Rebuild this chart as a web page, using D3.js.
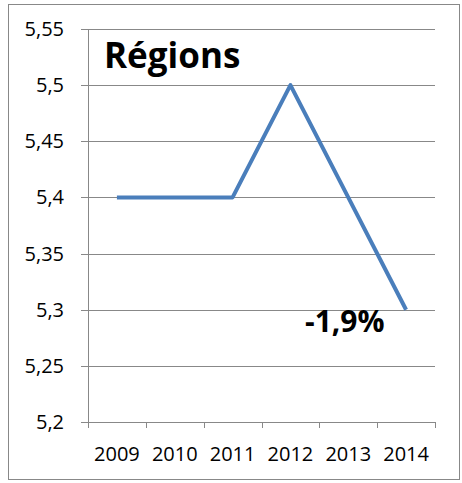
<!DOCTYPE html>
<html>
<head>
<meta charset="utf-8">
<script src="https://cdn.jsdelivr.net/npm/d3@7"></script>
<style>
body { margin: 0; background: #fff; }
text { font-family: "Open Sans", "Liberation Sans", sans-serif; fill: #000; }
</style>
</head>
<body>
<svg width="462" height="483"></svg>
<script>
var years = ["2009", "2010", "2011", "2012", "2013", "2014"];
var values = [5.4, 5.4, 5.4, 5.5, 5.4, 5.3];
var yTicks = [5.2, 5.25, 5.3, 5.35, 5.4, 5.45, 5.5, 5.55];
var title = "Régions";
var note = "-1,9%";

var svg = d3.select("svg");

// outer frame
svg.append("rect")
  .attr("x", 8.5).attr("y", 4.5)
  .attr("width", 451).attr("height", 475)
  .attr("fill", "#fff").attr("stroke", "#888").attr("stroke-width", 1);

var plotLeft = 88, plotRight = 435, plotTop = 29, plotBottom = 422;

var x = d3.scaleBand().domain(years).range([plotLeft, plotRight]);
var y = d3.scaleLinear().domain([5.2, 5.55]).range([plotBottom, plotTop]);

var fmt = function(d) { return d3.format("~g")(d).replace(".", ","); };

// horizontal gridlines
svg.append("g")
  .selectAll("line")
  .data(yTicks)
  .enter().append("line")
  .attr("x1", plotLeft - 7).attr("x2", plotRight)
  .attr("y1", function(d) { return Math.round(y(d)) + 0.5; })
  .attr("y2", function(d) { return Math.round(y(d)) + 0.5; })
  .attr("stroke", "#888").attr("stroke-width", 1);

// y axis labels
svg.append("g")
  .selectAll("text")
  .data(yTicks)
  .enter().append("text")
  .attr("x", 64)
  .attr("y", function(d) { return y(d) + 7; })
  .attr("text-anchor", "end")
  .attr("font-size", 20)
  .text(fmt);

// y axis line
svg.append("line")
  .attr("x1", plotLeft + 0.5).attr("x2", plotLeft + 0.5)
  .attr("y1", plotTop).attr("y2", plotBottom)
  .attr("stroke", "#888");

// x axis ticks
var edges = years.map(function(d) { return x(d); }).concat([plotRight]);
svg.append("g")
  .selectAll("line")
  .data(edges)
  .enter().append("line")
  .attr("x1", function(d) { return Math.round(d) + 0.5; })
  .attr("x2", function(d) { return Math.round(d) + 0.5; })
  .attr("y1", plotBottom).attr("y2", plotBottom + 6)
  .attr("stroke", "#888");

// x labels
svg.append("g")
  .selectAll("text")
  .data(years)
  .enter().append("text")
  .attr("x", function(d) { return x(d) + x.bandwidth() / 2; })
  .attr("y", 461)
  .attr("text-anchor", "middle")
  .attr("font-size", 20)
  .text(function(d) { return d; });

// series line
var line = d3.line()
  .x(function(d, i) { return x(years[i]) + x.bandwidth() / 2; })
  .y(function(d) { return y(d); });

svg.append("path")
  .datum(values)
  .attr("d", line)
  .attr("fill", "none")
  .attr("stroke", "#4a7ebb")
  .attr("stroke-width", 4)
  .attr("stroke-linejoin", "round");

svg.append("text")
  .attr("x", 104).attr("y", 68)
  .attr("font-size", 35).attr("font-weight", "bold")
  .text(title);

svg.append("text")
  .attr("x", 305).attr("y", 332)
  .attr("font-size", 30).attr("font-weight", "bold")
  .text(note);
</script>
</body>
</html>
